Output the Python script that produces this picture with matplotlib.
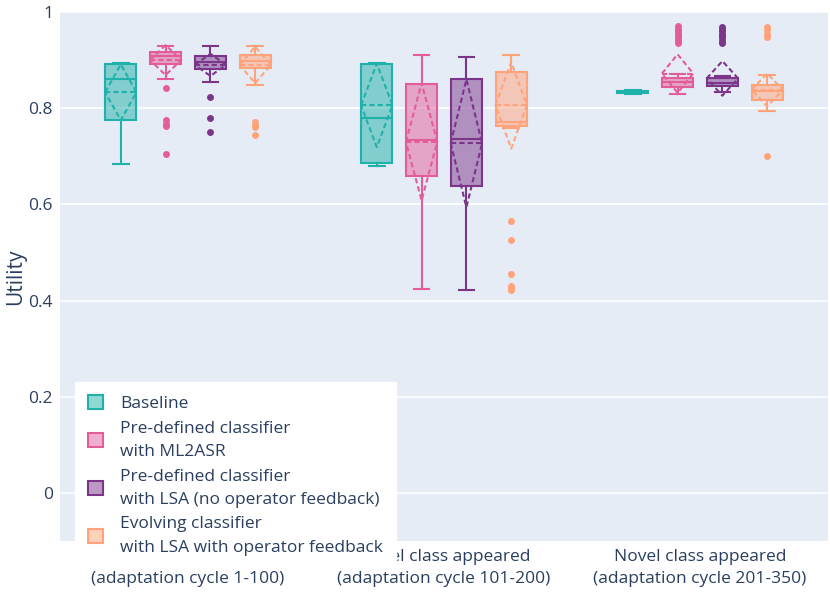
import matplotlib.pyplot as plt
import matplotlib.patches as mpatches
from matplotlib.colors import to_rgba

plt.rcParams['font.family'] = ['Open Sans', 'DejaVu Sans']
txtcol = '#2a3f5f'

# x categories (first line of first label is hidden behind the legend)
categories = ['Only known classes\n(adaptation cycle 1-100)',
              'Novel class appeared\n(adaptation cycle 101-200)',
              'Novel class appeared\n(adaptation cycle 201-350)']

series = ['Baseline',
          'Pre-defined classifier\nwith ML2ASR',
          'Pre-defined classifier\nwith LSA (no operator feedback)',
          'Evolving classifier\nwith LSA with operator feedback']
colors = ['#20b2aa', '#e35d9a', '#7b3589', '#ffa47a']

# per series, one entry per category: [low whisker, q1, median, q3, high whisker]
baseline_box = [[0.683, 0.775, 0.860, 0.892, 0.894],
                [0.680, 0.686, 0.779, 0.891, 0.893],
                [0.830, 0.832, 0.833, 0.835, 0.837]]
ml2asr_box = [[0.860, 0.891, 0.908, 0.917, 0.930],
              [0.423, 0.658, 0.733, 0.851, 0.910],
              [0.829, 0.844, 0.855, 0.862, 0.871]]
lsa_box = [[0.855, 0.881, 0.896, 0.909, 0.929],
           [0.422, 0.638, 0.735, 0.860, 0.906],
           [0.834, 0.846, 0.853, 0.862, 0.866]]
evolving_box = [[0.849, 0.883, 0.898, 0.910, 0.929],
                [0.758, 0.762, 0.771, 0.876, 0.910],
                [0.794, 0.818, 0.835, 0.849, 0.870]]

# mean and standard deviation
baseline_mean = [0.833, 0.806, 0.833]
baseline_sd = [0.058, 0.087, 0.001]
ml2asr_mean = [0.900, 0.730, 0.872]
ml2asr_sd = [0.031, 0.122, 0.040]
lsa_mean = [0.890, 0.727, 0.862]
lsa_sd = [0.023, 0.133, 0.036]
evolving_mean = [0.890, 0.806, 0.838]
evolving_sd = [0.038, 0.090, 0.034]

# outliers
baseline_out = [[], [], []]
ml2asr_out = [[0.841, 0.775, 0.768, 0.763, 0.704], [],
              [0.935, 0.940, 0.945, 0.950, 0.955, 0.960, 0.965, 0.970]]
lsa_out = [[0.824, 0.780, 0.750], [],
           [0.935, 0.940, 0.945, 0.950, 0.955, 0.960, 0.965, 0.969]]
evolving_out = [[0.771, 0.766, 0.761, 0.745],
                [0.565, 0.525, 0.456, 0.431, 0.426, 0.421],
                [0.969, 0.962, 0.955, 0.948, 0.700]]

boxes = [baseline_box, ml2asr_box, lsa_box, evolving_box]
means = [baseline_mean, ml2asr_mean, lsa_mean, evolving_mean]
sds = [baseline_sd, ml2asr_sd, lsa_sd, evolving_sd]
outs = [baseline_out, ml2asr_out, lsa_out, evolving_out]

fig = plt.figure(figsize=(8.3, 5.95), dpi=100)
ax = fig.add_axes([60/830, 1 - 541/595, 768/830, 529/595])
ax.set_facecolor('#e5ecf6')

slot = 0.175
width = 0.1225
lw = 1.5
fs = 12.5
for s in range(len(series)):
    c = colors[s]
    stats = []
    pos = []
    for i in range(len(categories)):
        lo, q1, med, q3, hi = boxes[s][i]
        stats.append(dict(whislo=lo, q1=q1, med=med, q3=q3, whishi=hi,
                          fliers=outs[s][i]))
        pos.append(i + (s - 1.5) * slot)
    ax.bxp(stats, positions=pos, widths=width, patch_artist=True,
           capwidths=width * 0.5, manage_ticks=False,
           boxprops=dict(facecolor=to_rgba(c, 0.5), edgecolor=c, linewidth=lw),
           medianprops=dict(color=c, linewidth=lw),
           whiskerprops=dict(color=c, linewidth=lw),
           capprops=dict(color=c, linewidth=lw),
           flierprops=dict(marker='o', markersize=5, markerfacecolor=c,
                           markeredgecolor='none'))
    # mean line and sd diamond
    for i, x in enumerate(pos):
        m = means[s][i]
        sd = sds[s][i]
        h = width / 2
        ax.plot([x - h, x + h], [m, m], color=c, linewidth=lw,
                dashes=(2.5, 1.5), zorder=3)
        ax.plot([x - h, x, x + h, x, x - h], [m, m + sd, m, m - sd, m],
                color=c, linewidth=lw, dashes=(2.5, 1.5), zorder=3)

ax.set_xlim(-0.5, 2.5)
ax.set_ylim(-0.1, 1.0)
ax.set_xticks(range(len(categories)))
ax.set_xticklabels(categories, linespacing=1.5)
ax.set_yticks([0, 0.2, 0.4, 0.6, 0.8, 1.0])
ax.set_yticklabels(['0', '0.2', '0.4', '0.6', '0.8', '1'])
ax.tick_params(axis='both', length=0, labelsize=fs, colors=txtcol)
ax.tick_params(axis='x', pad=6)
ax.tick_params(axis='y', pad=5)
ax.grid(axis='y', color='white', linewidth=1.2)
ax.set_axisbelow(True)
for sp in ax.spines.values():
    sp.set_visible(False)
ax.set_ylabel('Utility', fontsize=15, color=txtcol, labelpad=2)

patches = [mpatches.Patch(facecolor=to_rgba(c, 0.5), edgecolor=c,
                          linewidth=lw, label=l)
           for c, l in zip(colors, series)]
leg = ax.legend(handles=patches, loc='upper left',
                bbox_to_anchor=(75/830, 1 - 382/595),
                bbox_transform=fig.transFigure, fontsize=fs,
                frameon=True, fancybox=False, framealpha=1,
                edgecolor='white', handlelength=0.85, handleheight=0.85,
                labelspacing=0.5, borderpad=0.75, handletextpad=1.0,
                borderaxespad=0)
for t in leg.get_texts():
    t.set_color(txtcol)
    t.set_linespacing(1.6)
leg.set_zorder(10)

plt.savefig('out.png', dpi=100)
